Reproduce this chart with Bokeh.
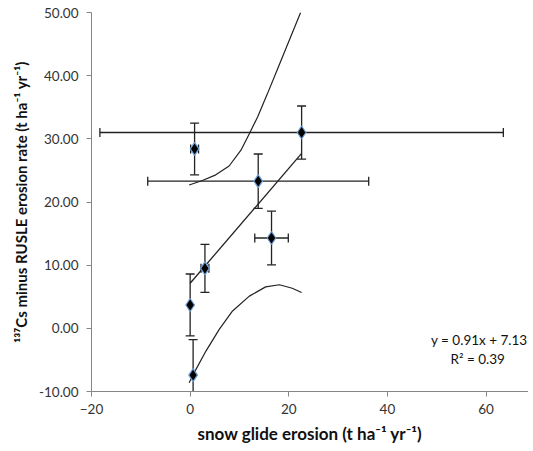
from bokeh.plotting import figure
from bokeh.models import (ColumnDataSource, Whisker, TeeHead, Range1d, FixedTicker,
                          NumeralTickFormatter, Label)
from bokeh.embed import file_html
from bokeh.resources import INLINE

# ---- data ----
snow_glide = [0.9, 22.6, 13.8, 16.5, 3.0, 0.0, 0.6]
cs_minus_rusle = [28.4, 31.0, 23.3, 14.3, 9.5, 3.7, -7.4]
snow_glide_err = [0.8, 40.9, 22.4, 3.4, 0.8, 0.0, 0.0]
cs_err = [4.1, 4.2, 4.3, 4.25, 3.8, 4.9, 5.6]

fit_slope = 0.91
fit_intercept = 7.13

upper_band_x = [-0.2, 2.5, 5.2, 7.9, 10.3, 12.0, 13.7, 15.7, 17.7, 20.1, 22.4]
upper_band_y = [22.7, 23.4, 24.3, 25.7, 28.2, 30.8, 33.5, 37.2, 41.0, 45.6, 50.0]
lower_band_x = [-0.2, 0.8, 3.2, 5.9, 8.6, 12.0, 15.3, 18.1, 20.7, 22.6]
lower_band_y = [-8.6, -7.05, -3.6, -0.16, 2.75, 5.1, 6.56, 6.9, 6.35, 5.67]

x_ticks = [-20, 0, 20, 40, 60]
y_ticks = [-10, 0, 10, 20, 30, 40, 50]

FONT = "Lato"
AXIS_GREY = "#868686"
INK = "#222222"

p = figure(width=528, height=448, output_backend="svg", toolbar_location=None,
           x_range=Range1d(-20, 68.6), y_range=Range1d(-10, 50),
           min_border_left=91, min_border_right=0, min_border_top=12, min_border_bottom=57)
p.outline_line_color = None
p.grid.visible = False
p.background_fill_color = "white"
p.border_fill_color = "white"

for ax in (p.xaxis[0], p.yaxis[0]):
    ax.axis_line_color = AXIS_GREY
    ax.major_tick_line_color = AXIS_GREY
    ax.major_tick_in = 0
    ax.major_tick_out = 5
    ax.minor_tick_line_color = None
    ax.major_label_text_font = FONT
    ax.major_label_text_font_size = "13.5px"
    ax.major_label_text_color = "#333333"
    ax.axis_label_text_font = FONT
    ax.axis_label_text_font_style = "bold"
    ax.axis_label_text_color = "#111111"

p.xaxis.axis_label_text_font_size = "17px"
p.yaxis.axis_label_text_font_size = "15px"
p.xaxis.ticker = FixedTicker(ticks=x_ticks)
p.yaxis.ticker = FixedTicker(ticks=y_ticks)
p.yaxis.formatter = NumeralTickFormatter(format="0.00")
p.xaxis.axis_label = "snow glide erosion (t ha\u207b\u00b9 yr\u207b\u00b9)"
p.yaxis.axis_label = "\u00b9\u00b3\u2077Cs minus RUSLE erosion rate (t ha\u207b\u00b9 yr\u207b\u00b9)"
p.xaxis.major_label_standoff = 7
p.yaxis.major_label_standoff = 8
p.xaxis.axis_label_standoff = 6
p.yaxis.axis_label_standoff = 6

# confidence band curves
p.line(upper_band_x, upper_band_y, line_color=INK, line_width=1.2)
p.line(lower_band_x, lower_band_y, line_color=INK, line_width=1.2)

# regression line
x0, x1 = min(snow_glide), max(snow_glide)
p.line([x0, x1], [fit_slope * x0 + fit_intercept, fit_slope * x1 + fit_intercept],
       line_color=INK, line_width=1.3)

# error bars
src = ColumnDataSource(dict(
    x=snow_glide, y=cs_minus_rusle,
    ylo=[v - e for v, e in zip(cs_minus_rusle, cs_err)],
    yhi=[v + e for v, e in zip(cs_minus_rusle, cs_err)],
))
p.add_layout(Whisker(source=src, base="x", lower="ylo", upper="yhi", dimension="height",
                     line_color=INK, line_width=1.3,
                     upper_head=TeeHead(size=9, line_color=INK, line_width=1.3),
                     lower_head=TeeHead(size=9, line_color=INK, line_width=1.3)))

hx = [(xv, yv, e) for xv, yv, e in zip(snow_glide, cs_minus_rusle, snow_glide_err) if e > 0]
srch = ColumnDataSource(dict(
    y=[h[1] for h in hx],
    xlo=[h[0] - h[2] for h in hx],
    xhi=[h[0] + h[2] for h in hx],
))
p.add_layout(Whisker(source=srch, base="y", lower="xlo", upper="xhi", dimension="width",
                     line_color=INK, line_width=1.3,
                     upper_head=TeeHead(size=9, line_color=INK, line_width=1.3),
                     lower_head=TeeHead(size=9, line_color=INK, line_width=1.3)))

# markers
p.scatter(snow_glide, cs_minus_rusle, marker="diamond", size=13,
          fill_color="black", line_color="#6f9fd8", line_width=1.2)

# equation labels
p.add_layout(Label(x=68.4, y=-1.9, text="y = 0.91x + 7.13", text_align="right",
                   text_baseline="middle", text_font=FONT,
                   text_font_size="13.5px", text_color="#111111"))
p.add_layout(Label(x=58.3, y=-4.9, text="R\u00b2 = 0.39", text_align="center",
                   text_baseline="middle", text_font=FONT,
                   text_font_size="13.5px", text_color="#111111"))

open("out.html", "w").write(file_html(p, INLINE))
